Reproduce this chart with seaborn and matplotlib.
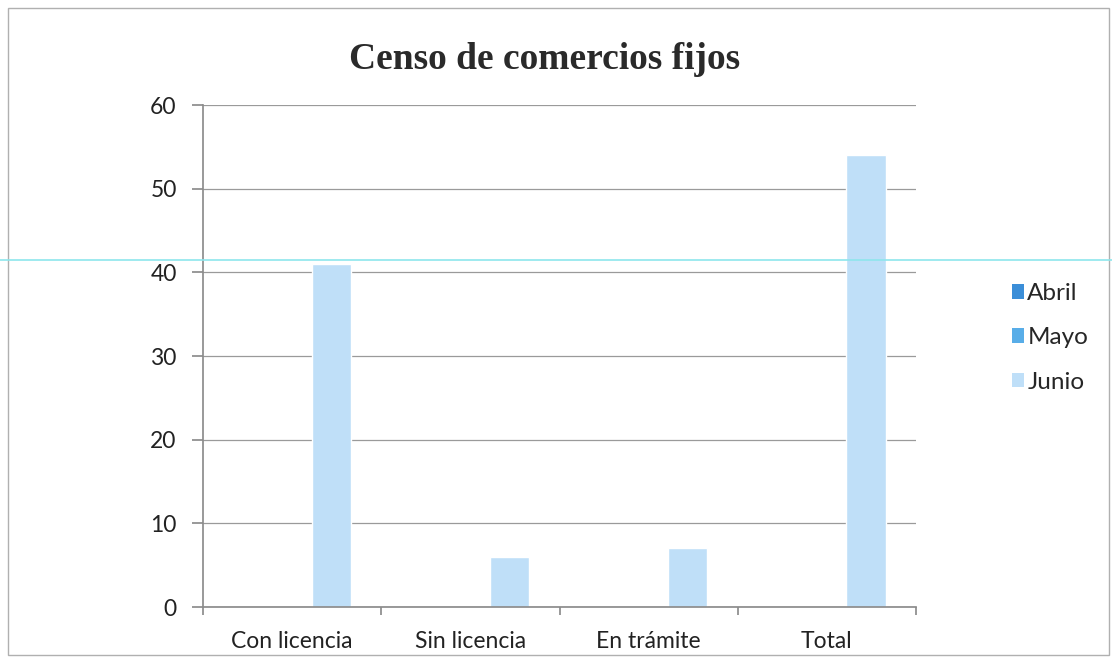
import matplotlib
matplotlib.use("Agg")
import matplotlib.pyplot as plt
from matplotlib.lines import Line2D
from matplotlib.patches import Rectangle, Patch
import seaborn as sns
import pandas as pd

categories = ["Con licencia", "Sin licencia", "En trámite", "Total"]
series = ["Abril", "Mayo", "Junio"]
abril = [0, 0, 0, 0]
mayo = [0, 0, 0, 0]
junio = [41, 6, 7, 54]
colors = ["#3b8ed8", "#58ade8", "#bfdff8"]

rows = []
for s, vals in zip(series, [abril, mayo, junio]):
    for c, v in zip(categories, vals):
        rows.append({"cat": c, "serie": s, "valor": v})
df = pd.DataFrame(rows)

sns.set_theme(style="white")
plt.rcParams['font.family'] = ['Lato', 'DejaVu Sans']

fig = plt.figure(figsize=(11.12, 6.6), dpi=100)
ax = fig.add_axes([0.1826, 0.0803, 0.6411, 0.7606])

sns.barplot(data=df, x="cat", y="valor", hue="serie", order=categories,
            hue_order=series, palette=colors, width=0.66, ax=ax,
            legend=False, saturation=1)

ax.set_ylim(0, 60)
ax.set_xlim(-0.5, 3.5)
ax.set_yticks(range(0, 61, 10))
ax.set_xlabel("")
ax.set_ylabel("")
ax.yaxis.grid(True, color="#9a9a9a", linewidth=0.9)
ax.set_axisbelow(True)
for side in ["top", "right"]:
    ax.spines[side].set_visible(False)
ax.spines["left"].set_color("#8c8c8c")
ax.spines["bottom"].set_color("#8c8c8c")
ax.tick_params(axis="y", left=True, length=8, color="#8c8c8c", labelsize=16.5,
               pad=11, labelcolor="#222222")
ax.set_xticks([-0.5, 0.5, 1.5, 2.5, 3.5], minor=False)
ax.set_xticklabels([])
ax.set_xticks(range(len(categories)), minor=True)
ax.set_xticklabels(categories, minor=True)
ax.tick_params(axis="x", which="major", bottom=True, length=6, color="#8c8c8c")
ax.tick_params(axis="x", which="minor", bottom=False, labelsize=16.5,
               pad=13, labelcolor="#222222")

fig.text(0.49, 0.91, "Censo de comercios fijos", ha="center", va="center",
         fontsize=27, fontweight="bold", family="Liberation Serif", color="#2a2a2a")

handles = [Patch(facecolor=c, edgecolor="none") for c in colors]
fig.legend(handles, series, loc="center left", bbox_to_anchor=(0.89, 0.488),
           frameon=False, fontsize=17.5, handlelength=0.5, handleheight=0.55,
           handletextpad=0.15, labelspacing=0.95)

fig.add_artist(Rectangle((0.007, 0.008), 0.99, 0.98, transform=fig.transFigure,
                         fill=False, edgecolor="#b0b0b0", linewidth=1))
fig.add_artist(Line2D([0, 1], [1 - 260 / 660] * 2, transform=fig.transFigure,
                      color="#8ee6ec", linewidth=1.2))

fig.savefig("out.png", dpi=100)
